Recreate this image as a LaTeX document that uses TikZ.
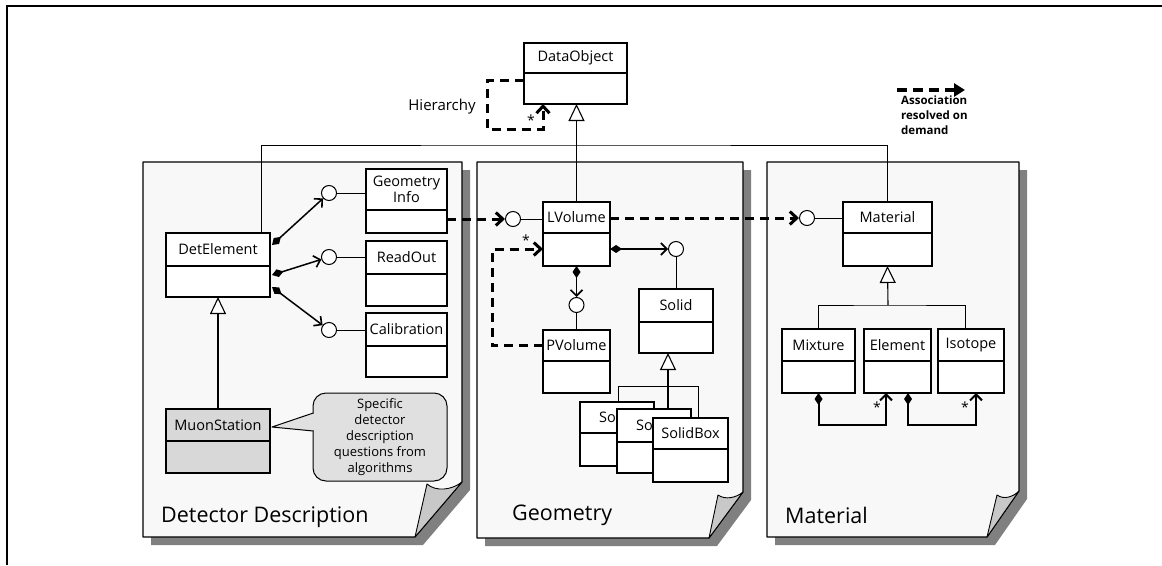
\documentclass[tikz,border=0pt]{standalone}
\usepackage{fontspec}
\setmainfont{Open Sans}
\usetikzlibrary{arrows.meta,calc}
\definecolor{pagefill}{HTML}{F8F8F8}
\definecolor{shadowgray}{HTML}{808080}
\definecolor{flapgray}{HTML}{C8C8C8}
\definecolor{notegray}{HTML}{E0E0E0}
\definecolor{stationgray}{HTML}{D8D8D8}

% UML class: [fill] name, x1, y1, x2, y2, divider y, title
\newcommand{\umlclass}[8][white]{%
  \node[classbox, fill=#1, minimum width={(#5-#3)*1pt}, minimum height={(#6-#4)*1pt}]
    (#2) at ({(#3+#5)/2},{(#4+#6)/2}) {};
  \draw[boxline] (#3,#7) -- (#5,#7);
  \node[classtext] (#2-name) at ({(#3+#5)/2},{(#4+#7)/2}) {#8};
}

\begin{document}
\begin{tikzpicture}[x=1pt,y=-1pt,
  frameline/.style={line width=1.3pt},
  pageshape/.style={fill=pagefill,draw=black,line width=1.1pt,line join=round},
  shadowshape/.style={fill=shadowgray},
  flapshape/.style={fill=flapgray,draw=black,line width=0.9pt,line join=round},
  classbox/.style={draw=black,line width=1.2pt,rectangle,inner sep=0pt,outer sep=0pt},
  classtext/.style={font=\fontsize{14.5}{16}\selectfont,inner sep=0pt,align=center},
  boxline/.style={line width=1.2pt},
  link/.style={line width=1pt},
  lolli/.style={circle,draw=black,fill=white,line width=1pt,minimum size=15pt,inner sep=0pt},
  gen/.style={line width=1.1pt,-{Triangle[length=17pt,width=16pt,fill=white,line width=1.1pt]}},
  comp/.style={line width=1.5pt,{Diamond[length=12pt,width=8pt]}-{Straight Barb[length=6pt,width=12pt,line width=1.6pt]}},
  compb/.style={line width=2pt,{Diamond[length=12pt,width=8pt]}-{Straight Barb[length=6pt,width=12pt,line width=2pt]}},
  assoc/.style={line width=3pt,dash pattern=on 9pt off 6pt,-{Straight Barb[length=7pt,width=13pt,line width=3pt]}},
  legendarrow/.style={line width=3.2pt,dash pattern=on 10pt off 6pt,-{Triangle[length=11pt,width=13pt]}},
  pagetitle/.style={font=\fontsize{21.5}{24}\selectfont,anchor=west,inner sep=0pt},
  starlabel/.style={font=\fontsize{14}{15}\selectfont,inner sep=0pt},
  notestyle/.style={fill=notegray,draw=black,line width=1pt},
]
\useasboundingbox (0,0) rectangle (1162,565);

% outer frame (top and left edges)
\draw[frameline] (1162,6) -- (7,6) -- (7,565);

% ---------- pages with drop shadows and folded corners ----------
\fill[shadowshape] (151,170) -- (470,170) -- (470,490) -- (423,545) -- (151,545) -- cycle;
\fill[shadowshape] (485,170) -- (751,170) -- (751,500) -- (717,546) -- (485,546) -- cycle;
\fill[shadowshape] (775,170) -- (1027,170) -- (1027,499) -- (995,545) -- (775,545) -- cycle;

\draw[pageshape] (143,162) -- (462,162) -- (462,482) -- (415,537) -- (143,537) -- cycle;
\draw[pageshape] (477,162) -- (743,162) -- (743,492) -- (709,538) -- (477,538) -- cycle;
\draw[pageshape] (767,162) -- (1019,162) -- (1019,491) -- (987,537) -- (767,537) -- cycle;

\draw[flapshape] (462,482) -- (415,537) -- (427,484) .. controls (436,492) and (452,490) .. (462,482) -- cycle;
\draw[flapshape] (743,492) -- (709,538) -- (718,495) .. controls (725,500) and (736,498) .. (743,492) -- cycle;
\draw[flapshape] (1019,491) -- (987,537) -- (997,495) .. controls (1004,500) and (1013,497) .. (1019,491) -- cycle;

\node[pagetitle] (ddTitle) at (161,517) {Detector Description};
\node[pagetitle] (geoTitle) at (512,515) {Geometry};
\node[pagetitle] (matTitle) at (785,515) {Material};

% ---------- connector anchors ----------
\coordinate (hj) at (577,145);
\coordinate (dA) at (272,245);
\coordinate (dB) at (272,275);
\coordinate (dC) at (272,287);
\coordinate (mj) at (888,305);
\coordinate (sbLeftTop) at (618,402);
\coordinate (sbFrameR) at (698,386);
\coordinate (sbRightTop) at (698,418);
\coordinate (sbMidTop) at (668,409);

% ---------- lollipop interfaces ----------
\node[lolli] (giC) at (329,193) {};
\node[lolli] (roC) at (329,257) {};
\node[lolli] (calC) at (329,330) {};
\node[lolli] (lvC) at (513,219) {};
\node[lolli] (mtC) at (807,218) {};
\node[lolli] (pvC) at (576.5,305) {};
\node[lolli] (slC) at (676,249) {};

% ---------- classes ----------
\umlclass{do}{524}{43}{627}{104}{73}{DataObject}
\umlclass{det}{166}{233}{270}{297}{266}{DetElement}
\umlclass{gi}{366}{169}{447}{233}{210}{Geometry\\Info}
\umlclass{ro}{366}{241}{447}{306}{274}{ReadOut}
\umlclass{cal}{366}{313}{447}{377}{346}{Calibration}
\umlclass[stationgray]{ms}{166}{409}{270}{473}{441}{MuonStation}
\umlclass{lv}{543}{202}{610}{266}{233}{LVolume}
\umlclass{pv}{543}{330}{610}{393}{361}{PVolume}
\umlclass{solid}{639}{289}{713}{353}{322}{Solid}
\umlclass{mat}{843}{202}{932}{266}{233}{Material}
\umlclass{mix}{782}{329}{855}{393}{361}{Mixture}
\umlclass{el}{864}{329}{931}{393}{361}{Element}
\umlclass{iso}{938}{329}{1004}{393}{361}{Isotope}

% ---------- inheritance ----------
\draw[link] ($(det.north east)+(-9,0)$) |- (hj) -| (mat.north);
\draw[gen] (lv.north) -- (lv.north |- do.south);
\draw[gen] (ms.north) -- (det.south);
\draw[gen] (mj) -- (mat.south);
\draw[link] (mix.north) |- (mj) -| ($(iso.north)+(-6,0)$);
\draw[link] (sbLeftTop) |- (sbFrameR) -- (sbRightTop);
\draw[gen] (sbMidTop) -- (solid.south -| sbMidTop);

% stacked solid subclasses
\umlclass{sba}{580}{402}{654}{466}{433}{}
\node[classtext, anchor=east] (sba-label) at (616,417.5) {So};
\umlclass{sbb}{617}{409}{691}{473}{442}{}
\node[classtext, anchor=east] (sbb-label) at (653,425.5) {So};
\umlclass{sb}{653}{418}{728}{482}{449}{SolidBox}

% ---------- interface links ----------
\draw[link] (giC) -- (gi.west |- giC);
\draw[link] (roC) -- (ro.west |- roC);
\draw[link] (calC) -- (cal.west |- calC);
\draw[link] (lvC) -- (lv.west |- lvC);
\draw[link] (mtC) -- (mat.west |- mtC);
\draw[link] (pvC) -- (pv.north);
\draw[link] (slC) -- (slC |- solid.north);

% ---------- compositions ----------
\draw[comp] (dA) -- (giC);
\draw[comp] (dB) -- (roC);
\draw[comp] (dC) -- (calC);
\draw[comp] (lv.south) -- (pvC);
\draw[comp] (lv.east |- slC) -- (slC);
\draw[compb] (mix.south) -- ++(0,32) -| ($(el.south west)+(22,0)$);
\draw[compb] ($(el.south east)+(-23,0)$) -- ++(0,32) -| ($(iso.south west)+(38,0)$);
\node[starlabel] (starEl) at (877,407) {*};
\node[starlabel] (starIso) at (965,407) {*};

% ---------- associations resolved on demand ----------
\draw[assoc] (gi.east |- lvC) -- (lvC);
\draw[assoc] (lv.east |- mtC) -- (mtC);
\draw[assoc] (pv.west |- pv-name) -| (492,249) -- (lv.west |- slC);
\node[starlabel] (starLv) at (526,240) {*};

% hierarchy self-association on DataObject
\draw[assoc] ($(do.north west)!0.62!(do.south west)$) -| (487,129) -| ($(do.south west)+(19,0)$);
\node[starlabel] (starDo) at (531,120) {*};
\node[font=\fontsize{15}{16}\selectfont, inner sep=0pt] (hier) at (442,107) {Hierarchy};

% legend
\coordinate (legA) at (897,90);
\coordinate (legB) at (965,90);
\draw[legendarrow] (legA) -- (legB);
\node[anchor=north west, align=left, inner sep=0pt, font=\fontsize{11.5}{15}\selectfont\bfseries]
  (legend) at (901,96) {Association\\resolved on\\demand};

% ---------- note on MuonStation ----------
\coordinate (msTip) at ($(ms.north east)+(2,18)$);
\filldraw[notestyle, rounded corners=13pt] (313,393) rectangle (447,481);
\fill[notegray] (312,414) rectangle (314.5,430);
\filldraw[notestyle, line join=round] (313.3,413) -- (msTip) -- (313.3,431);
\node[align=center, inner sep=0pt, font=\fontsize{13}{16}\selectfont] (note) at (380,437)
  {Specific\\detector\\description\\questions from\\algorithms};
\end{tikzpicture}
\end{document}
